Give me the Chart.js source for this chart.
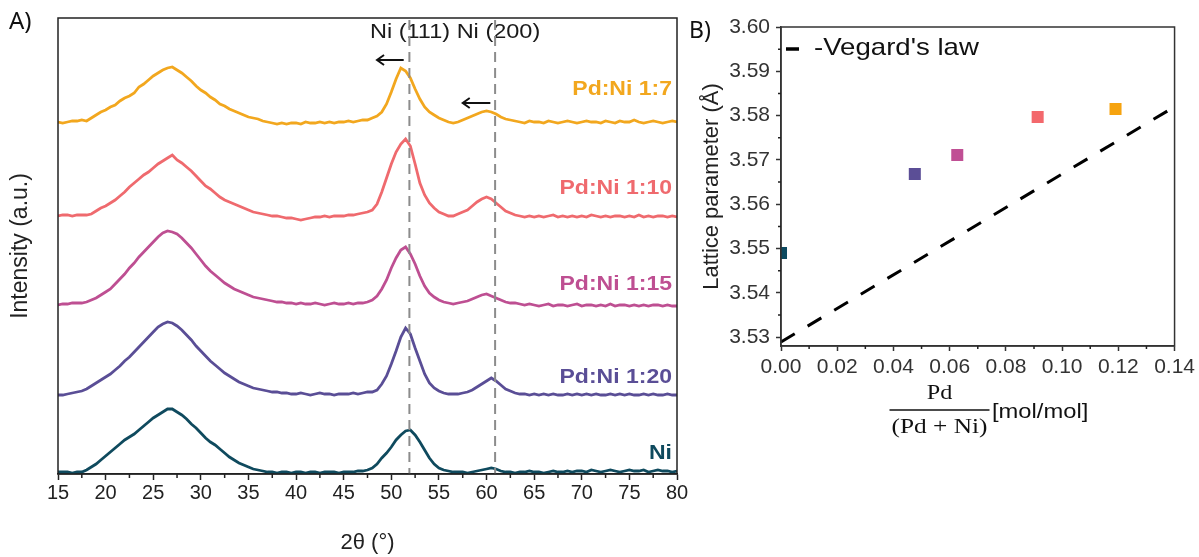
<!DOCTYPE html>
<html>
<head>
<meta charset="utf-8">
<title>Pd:Ni XRD and lattice parameter</title>
<script src="https://cdn.jsdelivr.net/npm/chart.js@4.4.1/dist/chart.umd.min.js"></script>
<style>
  html, body { margin: 0; padding: 0; background: #ffffff; }
  #wrap { position: relative; width: 1199px; height: 557px; overflow: hidden; background: #fff; }
  #boxA { position: absolute; left: 0; top: 0; width: 690px; height: 557px; }
  #boxB { position: absolute; left: 680px; top: 0; width: 519px; height: 557px; }
</style>
</head>
<body>
<div id="wrap">
  <div id="boxA"><canvas id="xrd" width="690" height="557"></canvas></div>
  <div id="boxB"><canvas id="lattice" width="519" height="557"></canvas></div>
</div>
<script>
// ---------- Panel A: XRD patterns (stacked, arbitrary units) ----------
const twoTheta = [
  15, 15.5, 16, 16.5, 17, 17.5, 18, 18.5, 19, 19.5,
  20, 20.5, 21, 21.5, 22, 22.5, 23, 23.5, 24, 24.5,
  25, 25.5, 26, 26.5, 27, 27.5, 28, 28.5, 29, 29.5,
  30, 30.5, 31, 31.5, 32, 32.5, 33, 33.5, 34, 34.5,
  35, 35.5, 36, 36.5, 37, 37.5, 38, 38.5, 39, 39.5,
  40, 40.5, 41, 41.5, 42, 42.5, 43, 43.5, 44, 44.5,
  45, 45.5, 46, 46.5, 47, 47.5, 48, 48.5, 49, 49.5,
  50, 50.5, 51, 51.5, 52, 52.5, 53, 53.5, 54, 54.5,
  55, 55.5, 56, 56.5, 57, 57.5, 58, 58.5, 59, 59.5,
  60, 60.5, 61, 61.5, 62, 62.5, 63, 63.5, 64, 64.5,
  65, 65.5, 66, 66.5, 67, 67.5, 68, 68.5, 69, 69.5,
  70, 70.5, 71, 71.5, 72, 72.5, 73, 73.5, 74, 74.5,
  75, 75.5, 76, 76.5, 77, 77.5, 78, 78.5, 79, 79.5,
  80
];

const iNi = [
  0, 0, 0, -1, 0, 0, 2, 5, 8, 12,
  16, 20, 24, 28, 32, 35, 38, 42, 46, 50,
  54, 57, 60, 63, 63, 60, 57, 53, 48, 44,
  39, 34, 30, 27, 23, 19, 15, 12, 9, 7,
  5, 3, 2, 1, 0, 0, -1, 0, 0, -1,
  0, 0, -1, 0, 0, -1, 0, 0, 0, -1,
  0, 0, 0, 1, 1, 2, 4, 8, 14, 19,
  25, 32, 37, 41, 42, 37, 30, 22, 14, 8,
  4, 2, 1, 0, 0, 0, -1, 0, 1, 2,
  3, 4, 3, 1, 0, 0, -1, 0, 0, 1,
  0, 0, -1, 0, 1, 0, 0, 1, 0, 1,
  1, 0, 2, 1, 0, 1, 2, 1, 0, 1,
  2, 1, 1, 2, 0, 1, 2, 1, 1, 0,
  1
];

const iPdNi20 = [
  -1, -1, 0, 1, 2, 3, 5, 8, 11, 14,
  17, 20, 24, 28, 33, 37, 42, 47, 52, 57,
  62, 67, 70, 72, 71, 68, 64, 59, 54, 48,
  43, 38, 33, 29, 25, 21, 18, 15, 12, 10,
  8, 6, 5, 4, 3, 2, 2, 1, 1, 0,
  0, 1, 0, -1, 0, 1, 0, 0, -1, 0,
  0, 0, 1, 0, 1, 2, 2, 4, 10, 18,
  30, 43, 57, 66, 60, 46, 33, 20, 11, 6,
  3, 1, 0, 0, 0, 1, 2, 4, 7, 10,
  13, 16, 13, 9, 5, 3, 1, 0, 0, -1,
  0, -1, 0, -1, 0, -1, -1, 0, -1, 0,
  -1, 0, -1, 0, -1, -1, 0, -1, 0, -1,
  0, -1, -1, 0, -1, 0, -1, -1, 0, -1,
  -1
];

const iPdNi15 = [
  -1, 0, 0, 1, 1, 1, 2, 4, 6, 9,
  12, 15, 20, 25, 30, 36, 41, 47, 52, 57,
  62, 67, 71, 73, 72, 70, 66, 61, 56, 50,
  44, 38, 33, 29, 25, 21, 18, 15, 13, 11,
  9, 7, 6, 5, 4, 3, 2, 2, 1, 1,
  0, 1, 0, 0, 1, 0, -1, 0, 1, 0,
  0, 1, 0, 1, 1, 2, 4, 8, 15, 24,
  36, 46, 54, 57, 50, 40, 28, 18, 11, 7,
  4, 2, 1, 0, 1, 2, 3, 5, 7, 9,
  10, 8, 6, 4, 2, 1, 1, 0, -1, 0,
  -1, -2, -1, 0, -2, -1, -1, -2, -1, 0,
  -2, -1, -1, -2, -1, -2, 0, -2, -1, -1,
  -2, -1, -2, -1, -2, -1, -1, -2, -1, -2,
  -2
];

const iPdNi10 = [
  0, 1, 1, 0, 1, 1, 1, 2, 5, 8,
  10, 13, 16, 20, 24, 29, 33, 37, 41, 44,
  48, 52, 55, 58, 61, 56, 53, 49, 45, 40,
  35, 30, 27, 23, 19, 16, 14, 12, 10, 8,
  6, 4, 3, 2, 1, 0, 0, -1, -2, -2,
  -3, -4, -3, -2, -1, -1, 0, -1, 0, 0,
  0, 1, 1, 2, 3, 4, 6, 12, 24, 38,
  52, 64, 72, 77, 70, 52, 33, 21, 13, 8,
  4, 2, 0, 0, 2, 4, 6, 10, 14, 17,
  19, 17, 13, 9, 5, 3, 1, 0, -1, 0,
  -1, 0, -1, 0, 1, -1, 0, -1, 0, -1,
  0, -1, 1, 0, -1, 0, -1, 0, 0, -1,
  0, -1, 1, -1, 0, -1, 0, 0, -1, 0,
  -1
];

const iPdNi7 = [
  0, -1, 0, 1, 1, 2, 1, 4, 7, 10,
  12, 15, 17, 21, 24, 26, 29, 35, 38, 42,
  46, 49, 52, 54, 55, 52, 49, 45, 41, 36,
  32, 29, 25, 22, 18, 16, 13, 11, 9, 7,
  5, 4, 3, 1, 0, -1, -2, -1, -2, -1,
  -1, -2, 0, -1, -1, 0, -1, 0, -1, 0,
  0, 1, 0, 1, 2, 2, 4, 6, 10, 18,
  30, 43, 54, 51, 44, 33, 23, 15, 10, 7,
  4, 2, 0, -1, 0, 2, 4, 6, 8, 10,
  11, 10, 8, 5, 3, 2, 1, 0, -1, 1,
  0, 0, -1, 1, 0, -1, 0, 1, 0, -1,
  0, 1, 0, 0, -1, 1, 0, -1, 1, 0,
  0, 2, 0, -1, 0, 1, 0, -1, 0, 1,
  0
];

const sampleNames = ['Ni', 'Pd:Ni 1:20', 'Pd:Ni 1:15', 'Pd:Ni 1:10', 'Pd:Ni 1:7'];
const stackOffsets = [2, 80, 170, 258, 352];
const xrdTicks = [15, 20, 25, 30, 35, 40, 45, 50, 55, 60, 65, 70, 75, 80];
const niReflections = [51.9, 60.9];

// ---------- Panel B: lattice parameter vs. Pd fraction ----------
const pdFraction = [0, 0.0476, 0.0627, 0.0913, 0.119];
const latticeParam = [3.549, 3.5668, 3.5711, 3.5797, 3.5815];
const vegardX = [0, 0.14];
const vegardA = [3.5289, 3.5820];
const latticeTicks = [3.53, 3.54, 3.55, 3.56, 3.57, 3.58, 3.59, 3.60];
const fractionTicks = [0, 0.02, 0.04, 0.06, 0.08, 0.10, 0.12, 0.14];

// ---------- shared styling ----------
const sampleColors = ['#0F4A5E', '#5A4E96', '#BE4F92', '#EF6A6E', '#F2A71E'];
const pointColors = ['#0D4A60', '#5B4E96', '#C04F94', '#F3686C', '#F6A30F'];
const SANS = "'Liberation Sans', Arial, Helvetica, sans-serif";
const SERIF = "'Liberation Serif', 'DejaVu Serif', serif";
const INK = '#222222';

function stretchedText(ctx, text, x, y, o) {
  ctx.save();
  ctx.font = o.font;
  ctx.fillStyle = o.color || INK;
  ctx.textBaseline = 'middle';
  ctx.textAlign = o.align || 'left';
  ctx.translate(x, y);
  ctx.scale(o.sx || 1, 1);
  ctx.fillText(text, 0, 0);
  ctx.restore();
}

function minorTicks(ctx, scale, values, len, horizontal) {
  ctx.save();
  ctx.strokeStyle = INK;
  ctx.lineWidth = 1.5;
  ctx.beginPath();
  values.forEach(v => {
    const p = scale.getPixelForValue(v);
    if (horizontal) { ctx.moveTo(p, scale.top); ctx.lineTo(p, scale.top + len); }
    else { ctx.moveTo(scale.right, p); ctx.lineTo(scale.right - len, p); }
  });
  ctx.stroke();
  ctx.restore();
}

function leftArrow(ctx, xTail, xHead, y) {
  ctx.beginPath();
  ctx.moveTo(xTail, y); ctx.lineTo(xHead, y);
  ctx.moveTo(xHead + 7, y - 5); ctx.lineTo(xHead, y); ctx.lineTo(xHead + 7, y + 5);
  ctx.stroke();
}

// ---------- Panel A chart ----------
const xrdSeries = [iNi, iPdNi20, iPdNi15, iPdNi10, iPdNi7];

const xrdDecor = {
  id: 'xrdDecor',
  afterDatasetsDraw(chart, args, opts) {
    const { ctx, chartArea: a, scales: { x, y } } = chart;

    // reflection labels
    stretchedText(ctx, 'Ni (111) Ni (200)', x.getPixelForValue(opts.refLabel.x), y.getPixelForValue(opts.refLabel.y),
      { font: `21px ${SANS}`, align: 'center', sx: 1.12, color: '#1a1a1a' });

    // Ni reference reflections
    ctx.save();
    ctx.strokeStyle = '#8c8c8c';
    ctx.lineWidth = 2;
    ctx.setLineDash([10, 6]);
    niReflections.forEach(v => {
      const px = x.getPixelForValue(v);
      ctx.beginPath(); ctx.moveTo(px, a.top + 2); ctx.lineTo(px, a.bottom); ctx.stroke();
    });
    ctx.restore();

    // peak-shift arrows
    ctx.save();
    ctx.strokeStyle = '#111';
    ctx.lineWidth = 2;
    opts.arrows.forEach(ar => {
      leftArrow(ctx, x.getPixelForValue(ar.from), x.getPixelForValue(ar.to), y.getPixelForValue(ar.y));
    });
    ctx.restore();

    // sample labels
    sampleNames.forEach((name, k) => {
      stretchedText(ctx, name, a.right - 5, y.getPixelForValue(opts.labelY[k]),
        { font: `bold 20px ${SANS}`, align: 'right', sx: 1.15, color: sampleColors[k] });
    });
  },
  afterDraw(chart) {
    const { ctx, chartArea: a, scales: { x } } = chart;
    ctx.save();
    ctx.strokeStyle = INK;
    ctx.lineWidth = 1.5;
    ctx.strokeRect(a.left, a.top, a.right - a.left, a.bottom - a.top);
    ctx.restore();
    const minors = xrdTicks.slice(0, -1).map(v => v + 2.5);
    minorTicks(ctx, x, minors, 4, true);
    stretchedText(ctx, 'A)', 9, 22, { font: `24px 'Noto Sans', ${SANS}`, color: '#111' });
  }
};

new Chart(document.getElementById('xrd'), {
  type: 'line',
  data: {
    datasets: xrdSeries.map((s, k) => ({
      label: sampleNames[k],
      data: twoTheta.map((t, i) => ({ x: t, y: s[i] + stackOffsets[k] })),
      borderColor: sampleColors[k],
      borderWidth: 2.8,
      pointRadius: 0,
      tension: 0,
      fill: false
    }))
  },
  options: {
    responsive: false,
    animation: false,
    events: [],
    layout: { padding: { left: 0, top: 18, right: 13, bottom: 0 } },
    plugins: {
      legend: { display: false },
      tooltip: { enabled: false },
      xrdDecor: {
        refLabel: { x: 56.7, y: 442 },
        arrows: [{ from: 51.3, to: 48.5, y: 414 }, { from: 60.4, to: 57.5, y: 371 }],
        labelY: [20.5, 96.5, 189.5, 286, 384.5]
      }
    },
    scales: {
      x: {
        type: 'linear',
        min: 15, max: 80,
        afterBuildTicks: s => { s.ticks = xrdTicks.map(v => ({ value: v })); },
        afterFit: s => { s.height = 83; },
        ticks: { font: { family: SANS, size: 20 }, color: INK, padding: 1, maxRotation: 0, autoSkip: false },
        grid: { drawOnChartArea: false, drawTicks: true, tickLength: 6, tickWidth: 1.5, tickColor: INK },
        border: { display: true, color: INK, width: 1.5 },
        title: { display: true, text: '2θ (°)', font: { family: SANS, size: 22 }, color: INK, padding: { top: 0, bottom: 1 } }
      },
      y: {
        min: 0, max: 456,
        afterFit: s => { s.width = 58; },
        ticks: { display: false },
        grid: { display: false },
        border: { display: false },
        title: { display: true, text: 'Intensity (a.u.)', font: { family: SANS, size: 23 }, color: INK, padding: { top: 7, bottom: 0 } }
      }
    }
  },
  plugins: [xrdDecor]
});

// ---------- Panel B chart ----------
const latticeDecor = {
  id: 'latticeDecor',
  afterDraw(chart) {
    const { ctx, chartArea: a, scales: { x, y } } = chart;
    ctx.save();
    ctx.strokeStyle = '#333';
    ctx.lineWidth = 1.5;
    ctx.strokeRect(a.left, a.top, a.right - a.left, a.bottom - a.top);
    ctx.restore();

    minorTicks(ctx, x, fractionTicks.slice(0, -1).map(v => v + 0.01), 3, true);
    minorTicks(ctx, y, latticeTicks.slice(0, -1).map(v => v + 0.005), 3, false);

    // legend
    ctx.save();
    ctx.strokeStyle = '#000';
    ctx.lineWidth = 3.5;
    ctx.beginPath(); ctx.moveTo(a.left + 5, 49); ctx.lineTo(a.left + 18, 49); ctx.stroke();
    ctx.restore();
    stretchedText(ctx, "-Vegard's law", a.left + 33, 48, { font: `24px ${SANS}`, sx: 1.15, color: '#111' });

    // x-axis title: Pd / (Pd + Ni) [mol/mol]
    const cx = 259.5;
    stretchedText(ctx, 'Pd', cx, 393, { font: `22px ${SERIF}`, align: 'center', sx: 1.1, color: '#111' });
    ctx.save();
    ctx.strokeStyle = '#111';
    ctx.lineWidth = 1.5;
    ctx.beginPath(); ctx.moveTo(cx - 50, 410); ctx.lineTo(cx + 50, 410); ctx.stroke();
    ctx.restore();
    stretchedText(ctx, '(Pd + Ni)', cx, 427, { font: `22px ${SERIF}`, align: 'center', sx: 1.15, color: '#111' });
    stretchedText(ctx, '[mol/mol]', 312, 412, { font: `21px ${SANS}`, sx: 1.13, color: '#111' });

    stretchedText(ctx, 'B)', 9, 31, { font: `23px 'Noto Sans', ${SANS}`, color: '#111' });
  }
};

new Chart(document.getElementById('lattice'), {
  type: 'scatter',
  data: {
    datasets: [
      {
        label: 'Lattice parameter',
        data: pdFraction.map((f, i) => ({ x: f, y: latticeParam[i] })),
        pointStyle: 'rect',
        pointRadius: 8.5,
        pointBorderWidth: 0,
        backgroundColor: pointColors,
        borderColor: pointColors,
        clip: 0
      },
      {
        label: "Vegard's law",
        data: vegardX.map((f, i) => ({ x: f, y: vegardA[i] })),
        showLine: true,
        borderColor: '#000',
        borderWidth: 3,
        borderDash: [16, 15],
        pointRadius: 0,
        clip: 0
      }
    ]
  },
  options: {
    responsive: false,
    animation: false,
    events: [],
    layout: { padding: { left: 0, top: 27, right: 22, bottom: 0 } },
    plugins: { legend: { display: false }, tooltip: { enabled: false } },
    scales: {
      x: {
        type: 'linear',
        min: 0, max: 0.14,
        afterBuildTicks: s => { s.ticks = fractionTicks.map(v => ({ value: v })); },
        afterFit: s => { s.height = 211; },
        ticks: { font: { family: SANS, size: 21 }, color: '#333', padding: 4, maxRotation: 0, autoSkip: false,
                 callback: v => Number(v).toFixed(2) },
        grid: { drawOnChartArea: false, drawTicks: true, tickLength: 5, tickWidth: 1.5, tickColor: '#333' },
        border: { display: true, color: '#333', width: 1.5 },
        title: { display: false }
      },
      y: {
        min: 3.528, max: 3.60,
        afterBuildTicks: s => { s.ticks = latticeTicks.map(v => ({ value: v })); },
        afterFit: s => { s.width = 101; },
        ticks: { font: { family: SANS, size: 21 }, color: '#333', padding: 6, autoSkip: false,
                 callback: v => Number(v).toFixed(2) },
        grid: { drawOnChartArea: false, drawTicks: true, tickLength: 5, tickWidth: 1.5, tickColor: '#333' },
        border: { display: true, color: '#333', width: 1.5 },
        title: { display: true, text: 'Lattice parameter (Å)', font: { family: SANS, size: 22 }, color: INK, padding: { top: 19, bottom: 0 } }
      }
    }
  },
  plugins: [latticeDecor]
});
</script>
</body>
</html>
